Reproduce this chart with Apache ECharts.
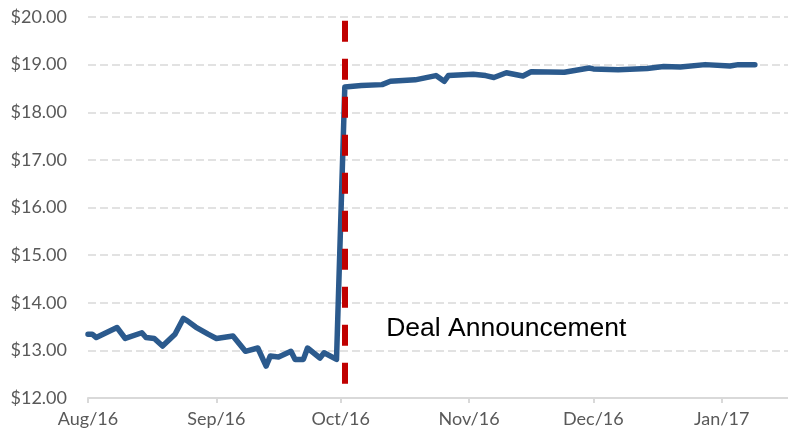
<!DOCTYPE html>
<html>
<head>
<meta charset="utf-8">
<script src="https://cdn.jsdelivr.net/npm/echarts@6/dist/echarts.min.js"></script>
<style>
  html, body { margin: 0; padding: 0; background: #fff; }
  #chart { width: 788px; height: 435px; }
</style>
</head>
<body>
<div id="chart"></div>
<script>
// share price
const dates = [
  "2016-08-01", "2016-08-02", "2016-08-03", "2016-08-08", "2016-08-10",
  "2016-08-14", "2016-08-15", "2016-08-17", "2016-08-19", "2016-08-22",
  "2016-08-24", "2016-08-25", "2016-08-27", "2016-08-30", "2016-09-01",
  "2016-09-05", "2016-09-08", "2016-09-11", "2016-09-13", "2016-09-14",
  "2016-09-16", "2016-09-19", "2016-09-20", "2016-09-22", "2016-09-23",
  "2016-09-26", "2016-09-27", "2016-09-30",
  "2016-10-02", "2016-10-06", "2016-10-11", "2016-10-13", "2016-10-19",
  "2016-10-24", "2016-10-26", "2016-10-27", "2016-11-02", "2016-11-05",
  "2016-11-07", "2016-11-10", "2016-11-14", "2016-11-16", "2016-11-24",
  "2016-11-30", "2016-12-01", "2016-12-07", "2016-12-14", "2016-12-18",
  "2016-12-22", "2016-12-28", "2017-01-03", "2017-01-05", "2017-01-09"
];
const prices = [
  13.34, 13.34, 13.27, 13.48, 13.25,
  13.37, 13.27, 13.25, 13.09, 13.34,
  13.67, 13.62, 13.49, 13.34, 13.25,
  13.30, 12.98, 13.05, 12.67, 12.88,
  12.86, 12.98, 12.81, 12.81, 13.05,
  12.84, 12.95, 12.81,
  18.53, 18.56, 18.58, 18.65, 18.68,
  18.77, 18.65, 18.77, 18.80, 18.77,
  18.73, 18.83, 18.76, 18.85, 18.84,
  18.93, 18.91, 18.89, 18.92, 18.96,
  18.95, 19.00, 18.97, 19.00, 19.00
];
const monthTicks = ["2016-08-01", "2016-09-01", "2016-10-01", "2016-11-01", "2016-12-01", "2017-01-01"];
const monthLabels = ["Aug/16", "Sep/16", "Oct/16", "Nov/16", "Dec/16", "Jan/17"];
const dealDate = "2016-10-02";
const dealText = "Deal Announcement";

// local-time parse
function ts(s) {
  const p = s.split("-").map(Number);
  return new Date(p[0], p[1] - 1, p[2]).getTime();
}

const tickValues = monthTicks.map(ts);
const chart = echarts.init(document.getElementById("chart"));

chart.setOption({
  animation: false,
  grid: { left: 88, right: 0, top: 17, bottom: 37 },
  xAxis: {
    // dates as plain timestamps so the month ticks can be set by hand
    type: "value",
    min: ts("2016-08-01"),
    max: ts("2017-01-17"),
    axisLine: { show: true, lineStyle: { color: "#d9d9d9", width: 2 } },
    axisTick: { show: true, length: 5, customValues: tickValues, lineStyle: { color: "#d9d9d9", width: 2 } },
    axisLabel: {
      customValues: tickValues,
      margin: 12,
      fontFamily: "Lato",
      fontSize: 18,
      color: "#595959",
      formatter: (v) => monthLabels[tickValues.indexOf(v)] || ""
    },
    splitLine: { show: false }
  },
  yAxis: {
    type: "value",
    min: 12,
    max: 20,
    interval: 1,
    axisLine: { show: false },
    axisTick: { show: false },
    axisLabel: {
      margin: 21,
      fontFamily: "Lato",
      fontSize: 18,
      color: "#595959",
      formatter: (v) => "$" + v.toFixed(2)
    },
    splitLine: { lineStyle: { color: "#d9d9d9", width: 1.5, type: [8, 4] } }
  },
  series: [{
    type: "line",
    data: dates.map((d, i) => [ts(d), prices[i]]),
    showSymbol: false,
    lineStyle: { color: "#2b5a8d", width: 5.5, join: "round", cap: "round" },
    z: 3,
    markLine: {
      silent: true,
      symbol: "none",
      label: { show: false },
      lineStyle: { color: "#c00000", width: 6, type: [21, 17] },
      data: [[
        { coord: [ts(dealDate), 19.92] },
        { coord: [ts(dealDate), 12.27] }
      ]]
    },
    markPoint: {
      silent: true,
      symbol: "rect",
      symbolSize: 0,
      label: {
        show: true,
        position: "right",
        distance: 0,
        formatter: dealText,
        fontFamily: "Liberation Sans",
        fontSize: 26.5,
        color: "#000"
      },
      data: [{ coord: [ts("2016-10-12"), 13.45] }]
    }
  }]
});
</script>
</body>
</html>
